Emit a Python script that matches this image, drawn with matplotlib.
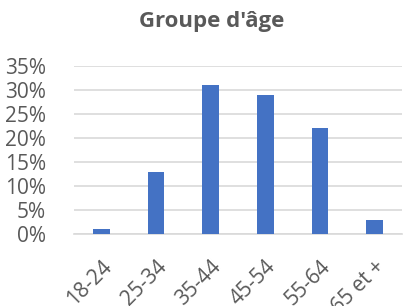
import matplotlib.pyplot as plt
from matplotlib.ticker import PercentFormatter

# data
groupes = ["18-24", "25-34", "35-44", "45-54", "55-64", "65 et +"]
parts = [1, 13, 31, 29, 22, 3]  # %
y_ticks = [0, 5, 10, 15, 20, 25, 30, 35]

plt.rcParams["font.family"] = ["Open Sans", "DejaVu Sans"]

fig = plt.figure(figsize=(4.03, 3.06), dpi=100)
ax = fig.add_axes([74 / 403, 1 - 234 / 306, 328 / 403, 168 / 306])

x = range(len(groupes))
ax.bar(x, parts, width=0.31, color="#4472c4", zorder=3)

ax.set_xlim(-0.5, len(groupes) - 0.5)
ax.set_ylim(0, 35)
ax.set_yticks(y_ticks)
ax.yaxis.set_major_formatter(PercentFormatter(decimals=0))
ax.set_xticks(list(x))
ax.set_xticklabels(groupes, rotation=45, ha="right", rotation_mode="anchor")

ax.grid(axis="y", color="#d9d9d9", linewidth=1.2, zorder=0)
for s in ["top", "right", "left"]:
    ax.spines[s].set_visible(False)
ax.spines["bottom"].set_color("#d9d9d9")
ax.spines["bottom"].set_linewidth(1.2)
ax.tick_params(length=0, labelsize=15, colors="#595959")
ax.tick_params(axis="y", pad=20)
ax.tick_params(axis="x", pad=16)

fig.text(212 / 403, 1 - 22 / 306, "Groupe d'âge", ha="center", va="center",
         fontsize=16, fontweight="bold", color="#595959")

fig.savefig("out.png", dpi=100)
